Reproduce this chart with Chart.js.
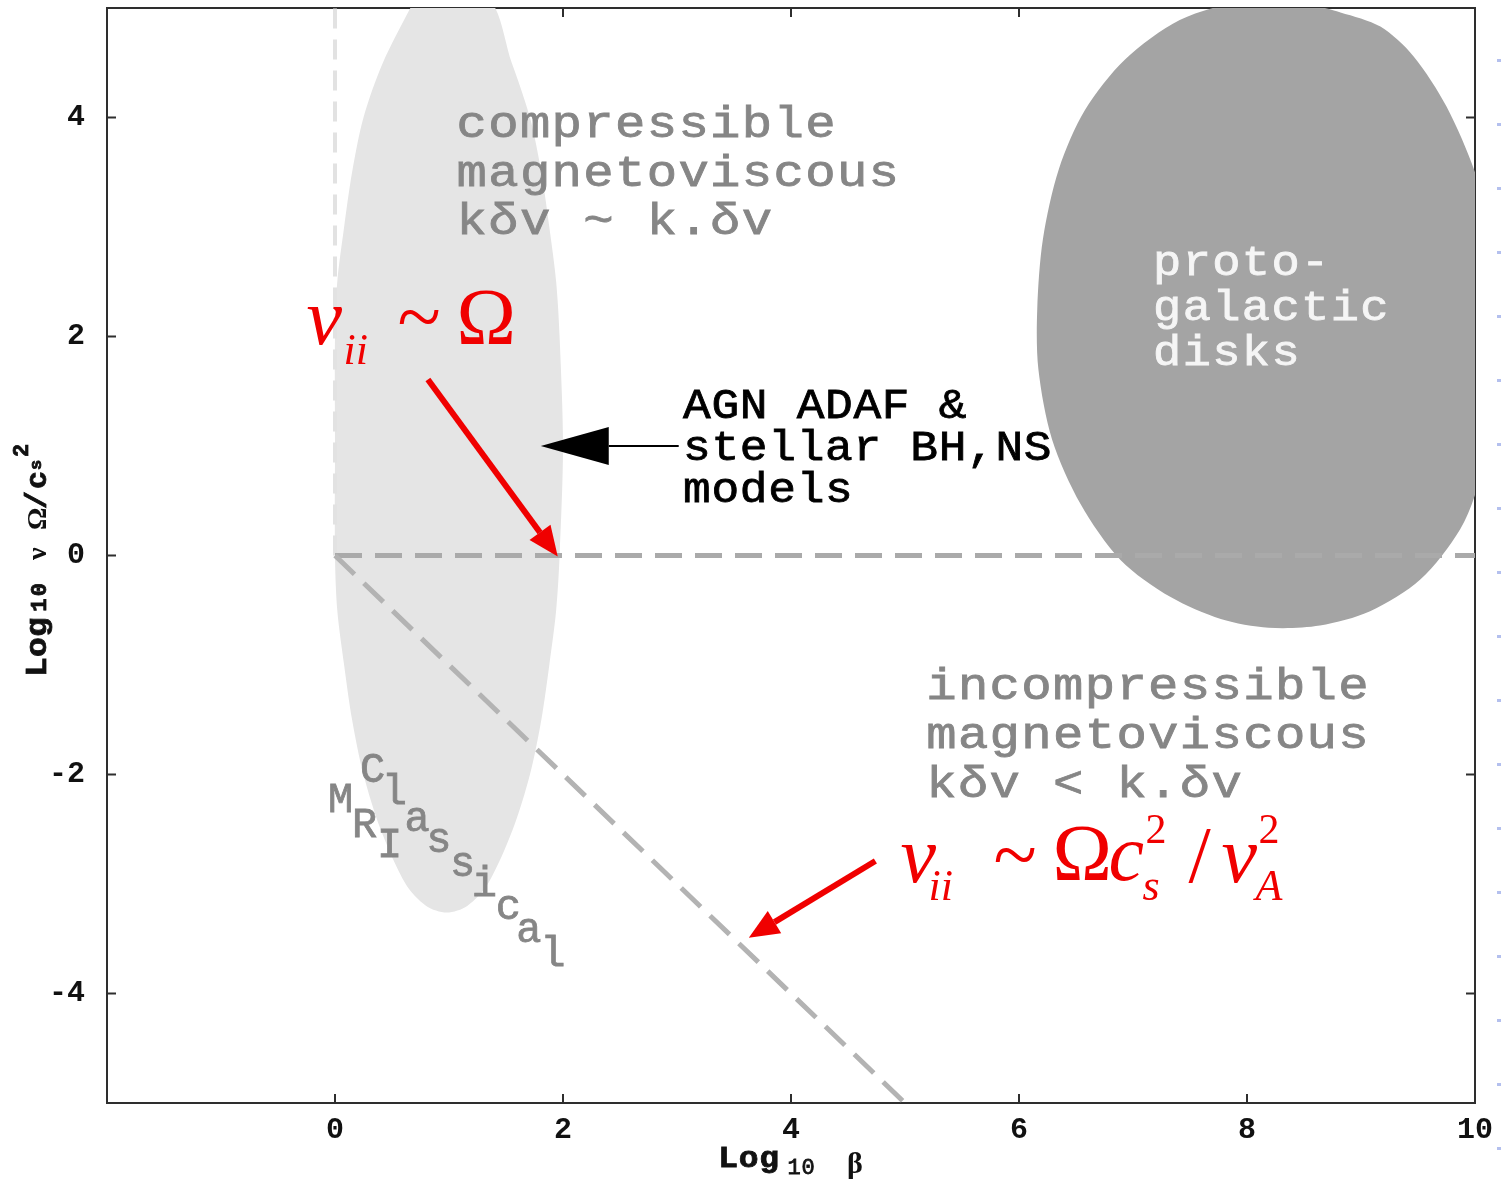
<!DOCTYPE html>
<html>
<head>
<meta charset="utf-8">
<script src="https://cdn.jsdelivr.net/npm/chart.js@4.4.0/dist/chart.umd.min.js"></script>
<style>
  html, body { margin: 0; padding: 0; background: #fff; }
  #wrap { width: 1501px; height: 1179px; }
</style>
</head>
<body>
<div id="wrap"><canvas id="plot" width="1501" height="1179"></canvas></div>
<script>
// axes: log10 beta (x) and log10 nu/Omega (y)
const xRange = [-2, 10];
const yRange = [-5, 5];
const xTickLabels = [0, 2, 4, 6, 8, 10];
const yTickLabels = [-4, -2, 0, 2, 4];

// boundary lines
const betaOneX = [0, 0];
const betaOneY = [0, 5];
const nuOmegaX = [0, 10];
const nuOmegaY = [0, 0];
const nuBetaX = [0, 5];
const nuBetaY = [0, -5];

// classical MRI region (light blob)
const mriBlobX = [0.71, 0.42, 0.25, 0.15, 0.08, 0.02, 0.00, 0.00, 0.00, 0.02, 0.08, 0.15, 0.25, 0.40, 0.62, 0.80, 0.98,
                  1.16, 1.34, 1.56, 1.71, 1.81, 1.88, 1.94, 1.97, 2.00, 1.97, 1.94, 1.88, 1.81, 1.71, 1.55, 1.33, 0.71];
const mriBlobY = [5.10, 4.50, 4.00, 3.50, 3.00, 2.50, 2.00, 1.00, 0.00, -0.50, -1.00, -1.50, -2.00, -2.50, -3.00, -3.20, -3.26,
                  -3.20, -3.00, -2.50, -2.00, -1.50, -1.00, -0.50, 0.00, 1.00, 2.00, 2.50, 3.00, 3.50, 4.00, 4.50, 5.10, 5.10];

// protogalactic disks region (dark blob)
const diskX = [8.03, 8.47, 8.82, 9.17, 9.46, 9.75, 10.00, 10.13, 10.18, 10.18, 10.04, 9.87, 9.52, 9.08, 8.64, 8.19, 7.77,
               7.33, 6.89, 6.54, 6.29, 6.17, 6.16, 6.21, 6.35, 6.58, 6.93, 7.41, 8.03];
const diskY = [5.10, 5.05, 4.96, 4.83, 4.56, 4.10, 3.50, 2.98, 2.34, 1.42, 0.69, 0.24, -0.22, -0.51, -0.64, -0.66, -0.58,
               -0.38, -0.04, 0.47, 1.06, 1.70, 2.25, 2.89, 3.53, 4.07, 4.53, 4.89, 5.10];

const pts = (xs, ys) => xs.map((x, i) => ({ x: x, y: ys[i] }));

const MONO = '"Liberation Mono", "DejaVu Sans Mono", monospace';
const SERIF = '"Liberation Serif", "DejaVu Serif", serif';

// text blocks: left x / first baseline y in data units
const textBlocks = [
  { x: 1.06, y: 3.82, lines: ['compressible', 'magnetoviscous', 'kδv ~ k.δv'], size: 44, adv: 31.7, sx: 1.15, gap: 48.5, color: '#868686' },
  { x: 5.18, y: -1.315, lines: ['incompressible', 'magnetoviscous', 'kδv < k.δv'], size: 44, adv: 31.7, sx: 1.15, gap: 49, color: '#868686' },
  { x: 3.05, y: 1.26, lines: ['AGN ADAF &', 'stellar BH,NS', 'models'], size: 42, adv: 28.4, sx: 1.1, gap: 42, color: '#000' },
  { x: 7.17, y: 2.566, lines: ['proto-', 'galactic', 'disks'], size: 42, adv: 29.6, sx: 1.12, gap: 45, color: '#f5f5f5' }
];

// scattered "MRI" / "Classical" letters (centre x, baseline y in data units)
const scatterLetters = [
  ['M', 0.05, -2.34], ['R', 0.26, -2.57], ['I', 0.48, -2.75],
  ['C', 0.33, -2.07], ['l', 0.52, -2.27], ['a', 0.72, -2.52], ['s', 0.91, -2.71], ['s', 1.12, -2.93],
  ['i', 1.31, -3.11], ['c', 1.52, -3.32], ['a', 1.70, -3.53], ['l', 1.91, -3.75]
];

function drawMono(ctx, str, x, y, size, adv, color, weight, sx) {
  sx = sx || 1;
  ctx.save();
  ctx.font = (weight || 'normal') + ' ' + size + 'px ' + MONO;
  ctx.fillStyle = color;
  ctx.strokeStyle = color;
  ctx.lineWidth = 0.8;
  ctx.textAlign = 'center';
  ctx.textBaseline = 'alphabetic';
  ctx.translate(x, y);
  ctx.scale(sx, 1);
  [...str].forEach((ch, i) => {
    const cx = (i + 0.5) * adv / sx;
    ctx.fillText(ch, cx, 0);
    ctx.strokeText(ch, cx, 0);
  });
  ctx.restore();
}

// runs: [text, font, dx, dy] relative to anchor
function drawRuns(ctx, x, y, runs, color) {
  ctx.fillStyle = color;
  ctx.textAlign = 'left';
  ctx.textBaseline = 'alphabetic';
  runs.forEach(r => { ctx.font = r[1]; ctx.fillText(r[0], x + r[2], y + r[3]); });
}

function drawArrow(ctx, x1, y1, x2, y2, width, headLen, headHalf, color) {
  const a = Math.atan2(y2 - y1, x2 - x1);
  const bx = x2 - headLen * Math.cos(a), by = y2 - headLen * Math.sin(a);
  ctx.strokeStyle = color;
  ctx.lineWidth = width;
  ctx.beginPath(); ctx.moveTo(x1, y1); ctx.lineTo(bx, by); ctx.stroke();
  ctx.fillStyle = color;
  ctx.beginPath();
  ctx.moveTo(x2, y2);
  ctx.lineTo(bx + headHalf * Math.sin(a), by - headHalf * Math.cos(a));
  ctx.lineTo(bx - headHalf * Math.sin(a), by + headHalf * Math.cos(a));
  ctx.closePath(); ctx.fill();
}

// frame + inward tick marks, drawn under the regions
const framePlugin = {
  id: 'frame',
  beforeDatasetsDraw(chart) {
    const { ctx, chartArea: a, scales: { x, y } } = chart;
    ctx.save();
    ctx.strokeStyle = '#2e2e2e';
    ctx.lineWidth = 2;
    ctx.strokeRect(a.left, a.top, a.right - a.left, a.bottom - a.top);
    x.ticks.forEach(t => {
      const px = x.getPixelForValue(t.value);
      const len = xTickLabels.includes(t.value) ? 9 : 5;
      ctx.beginPath();
      ctx.moveTo(px, a.bottom); ctx.lineTo(px, a.bottom - len);
      ctx.moveTo(px, a.top); ctx.lineTo(px, a.top + len);
      ctx.stroke();
    });
    y.ticks.forEach(t => {
      const py = y.getPixelForValue(t.value);
      const len = yTickLabels.includes(t.value) ? 9 : 5;
      ctx.beginPath();
      ctx.moveTo(a.left, py); ctx.lineTo(a.left + len, py);
      ctx.moveTo(a.right, py); ctx.lineTo(a.right - len, py);
      ctx.stroke();
    });
    // faint slide marks along the right edge
    ctx.fillStyle = '#b4c0ee';
    for (let py = 60; py < chart.height; py += 64) ctx.fillRect(chart.width - 4, py - 1, 4, 3);
    ctx.restore();
  }
};

const notesPlugin = {
  id: 'notes',
  afterDatasetsDraw(chart) {
    const { ctx, chartArea: a, scales: { x, y } } = chart;
    const X = v => x.getPixelForValue(v), Y = v => y.getPixelForValue(v);
    ctx.save();

    textBlocks.forEach(b => {
      b.lines.forEach((line, i) => drawMono(ctx, line, X(b.x), Y(b.y) + i * b.gap, b.size, b.adv, b.color, 'normal', b.sx));
    });
    scatterLetters.forEach(l => drawMono(ctx, l[0], X(l[1]) - 12, Y(l[2]), 42, 24, '#868686', 'normal', 1.0));

    // AGN pointer
    drawArrow(ctx, X(3.015), Y(1.0), X(1.805), Y(1.0), 2, 68, 19, '#000');

    // red annotations
    drawArrow(ctx, X(0.815), Y(1.607), X(1.954), Y(-0.01), 6, 30, 13, '#f00000');
    drawArrow(ctx, X(4.74), Y(-2.79), X(3.63), Y(-3.49), 6, 30, 13, '#f00000');

    const big = 'italic 80px ' + SERIF, small = 'italic 44px ' + SERIF, up = '80px ' + SERIF, sup = '42px ' + SERIF;
    drawRuns(ctx, X(-0.25), Y(1.93), [
      ['ν', big, 0, 0], ['ii', small, 37, 20], ['~', up, 91, 0], ['Ω', up, 150, 0]
    ], '#f00000');
    drawRuns(ctx, X(4.96), Y(-2.98), [
      ['ν', big, 0, 0], ['ii', small, 28, 18], ['~', up, 93, 0], ['Ω', up, 152, -2],
      ['c', big, 208, -2], ['s', small, 242, 18], ['2', sup, 245, -39],
      ['/', up, 288, 0], ['v', big, 321, 0], ['A', small, 355, 18], ['2', sup, 358, -39]
    ], '#f00000');

    // axis titles
    const cx = (a.left + a.right) / 2;
    drawMono(ctx, 'Log', cx - 73, a.bottom + 64, 30, 20.5, '#111', 'bold', 1.1);
    drawMono(ctx, '10', cx - 4, a.bottom + 71, 22, 14, '#111', 'normal', 1.0);
    ctx.fillStyle = '#111';
    ctx.font = 'bold 30px ' + SERIF;
    ctx.textAlign = 'left';
    ctx.fillText('β', cx + 56, a.bottom + 70);

    ctx.translate(46, 677);
    ctx.rotate(-Math.PI / 2);
    drawMono(ctx, 'Log', 0, 0, 30, 20, '#111', 'bold', 1.1);
    drawMono(ctx, '10', 64, 0, 22, 15.5, '#111', 'bold', 1.0);
    ctx.fillStyle = '#111';
    ctx.textAlign = 'left';
    ctx.font = 'bold 28px ' + SERIF;
    ctx.fillText('ν', 117, 0);
    ctx.fillText('Ω', 147, 0);
    drawMono(ctx, '/', 167, 0, 30, 20, '#111', 'bold', 1.0);
    drawMono(ctx, 'c', 187, 0, 30, 20, '#111', 'bold', 1.0);
    drawMono(ctx, 's', 207, -5, 17, 10, '#111', 'bold', 1.0);
    drawMono(ctx, '2', 220, -18, 22, 13, '#111', 'bold', 1.0);
    ctx.restore();
  }
};

const tickFont = { family: MONO, size: 30, weight: 'bold' };

// fixed axis boxes so the plot area lands where the original frame is
function fixX(s) { s.height = 76; s.paddingLeft = 0; s.paddingRight = 0; }
function fixY(s) { s.width = 107; s.paddingTop = 0; s.paddingBottom = 0; }

new Chart(document.getElementById('plot'), {
  type: 'scatter',
  data: {
    datasets: [
      { label: 'classical MRI', data: pts(mriBlobX, mriBlobY), showLine: true, fill: 'shape',
        backgroundColor: '#e5e5e5', borderWidth: 0, pointRadius: 0, tension: 0.3, order: 5 },
      { label: 'protogalactic disks', data: pts(diskX, diskY), showLine: true, fill: 'shape',
        backgroundColor: '#a4a4a4', borderWidth: 0, pointRadius: 0, tension: 0.3, order: 4 },
      { label: 'beta = 1', data: pts(betaOneX, betaOneY), showLine: true, borderColor: '#e2e2e2',
        borderWidth: 4, borderDash: [20, 11], pointRadius: 0, order: 3 },
      { label: 'nu ~ Omega', data: pts(nuOmegaX, nuOmegaY), showLine: true, borderColor: '#aaaaaa',
        borderWidth: 5, borderDash: [27, 13], pointRadius: 0, order: 2 },
      { label: 'nu ~ Omega/beta', data: pts(nuBetaX, nuBetaY), showLine: true, borderColor: '#b3b3b3',
        borderWidth: 5, borderDash: [27, 13], pointRadius: 0, order: 1 }
    ]
  },
  options: {
    responsive: false,
    animation: false,
    devicePixelRatio: 1,
    layout: { padding: { left: 0, top: 8, right: 26, bottom: 0 } },
    plugins: { legend: { display: false }, tooltip: { enabled: false } },
    scales: {
      x: {
        type: 'linear', min: xRange[0], max: xRange[1],
        afterFit: fixX,
        grid: { display: false, drawTicks: false },
        border: { display: false },
        ticks: { stepSize: 0.5, autoSkip: false, maxRotation: 0, padding: 9, color: '#111', font: tickFont,
                 callback: v => xTickLabels.includes(v) ? String(v) : null }
      },
      y: {
        type: 'linear', min: yRange[0], max: yRange[1],
        afterFit: fixY,
        grid: { display: false, drawTicks: false },
        border: { display: false },
        ticks: { stepSize: 0.5, autoSkip: false, padding: 22, color: '#111', font: tickFont,
                 callback: v => yTickLabels.includes(v) ? String(v) : null }
      }
    }
  },
  plugins: [framePlugin, notesPlugin]
});
</script>
</body>
</html>
